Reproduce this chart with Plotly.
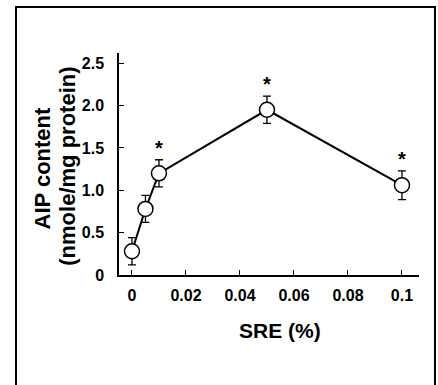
import plotly.graph_objects as go

sre = [0, 0.005, 0.01, 0.05, 0.1]
aip = [0.28, 0.78, 1.20, 1.95, 1.06]
aip_err = [0.16, 0.16, 0.16, 0.16, 0.17]
significant = [False, False, True, True, True]

x_tickvals = [0, 0.02, 0.04, 0.06, 0.08, 0.1]
x_ticktext = ["0", "0.02", "0.04", "0.06", "0.08", "0.1"]
y_tickvals = [0, 0.5, 1.0, 1.5, 2.0, 2.5]
y_ticktext = ["0", "0.5", "1.0", "1.5", "2.0", "2.5"]

FONT = "Liberation Sans, Arial, Helvetica, sans-serif"

fig = go.Figure()
fig.add_trace(go.Scatter(
    x=sre, y=aip, mode="lines+markers",
    line=dict(color="black", width=2),
    marker=dict(symbol="circle", size=15, color="white",
                line=dict(color="black", width=1.5)),
    error_y=dict(type="data", array=aip_err, visible=True,
                 color="black", thickness=1.3, width=4),
    showlegend=False, cliponaxis=False,
))

sig_x = [x for x, s in zip(sre, significant) if s]
sig_y = [y + e for y, e, s in zip(aip, aip_err, significant) if s]
fig.add_trace(go.Scatter(
    x=sig_x, y=sig_y, mode="text", text=["*"] * len(sig_x),
    textposition="top center",
    textfont=dict(family=FONT, size=20, color="black", weight="bold"),
    showlegend=False, cliponaxis=False,
))

fig.update_layout(
    width=438, height=385,
    margin=dict(l=119, r=19, t=53, b=110),
    paper_bgcolor="white", plot_bgcolor="white",
    font=dict(family=FONT, color="black"),
    xaxis=dict(
        range=[-0.0048, 0.1063], showgrid=False, zeroline=False,
        showline=True, linecolor="black", linewidth=1.5,
        ticks="inside", ticklen=5, tickwidth=1, tickcolor="black",
        tickvals=x_tickvals, ticktext=x_ticktext,
        tickfont=dict(family=FONT, size=16, weight="bold"),
        ticklabelstandoff=5,
    ),
    yaxis=dict(
        range=[0, 2.62], showgrid=False, zeroline=False,
        showline=True, linecolor="black", linewidth=1.5,
        ticks="inside", ticklen=5, tickwidth=1, tickcolor="black",
        tickvals=y_tickvals, ticktext=y_ticktext,
        tickfont=dict(family=FONT, size=16, weight="bold"),
        ticklabelstandoff=10,
    ),
    annotations=[
        dict(text="<b>AIP content</b>", xref="paper", yref="paper",
             x=-0.2517, y=0.482, xanchor="center", yanchor="middle",
             textangle=-90, showarrow=False,
             font=dict(family=FONT, size=22)),
        dict(text="<b>(nmole/mg protein)</b>", xref="paper", yref="paper",
             x=-0.1717, y=0.49, xanchor="center", yanchor="middle",
             textangle=-90, showarrow=False,
             font=dict(family=FONT, size=22)),
        dict(text="<b>SRE (%)</b>", xref="paper", yref="paper",
             x=0.535, y=-0.252, xanchor="center", yanchor="middle",
             showarrow=False, font=dict(family=FONT, size=21)),
    ],
    shapes=[
        dict(type="rect", xref="paper", yref="paper",
             x0=-0.3433, x1=1.0533, y0=-0.6, y1=1.2072,
             line=dict(color="black", width=2), fillcolor="rgba(0,0,0,0)",
             layer="below"),
    ],
)

fig.write_html("out.html")
